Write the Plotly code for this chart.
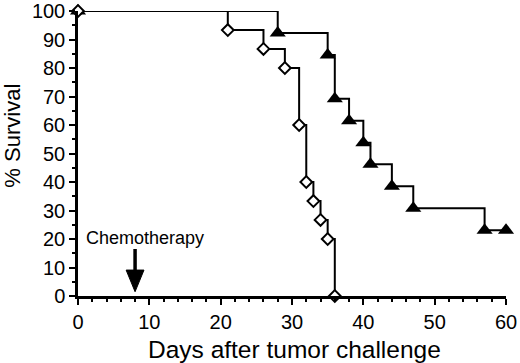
import plotly.graph_objects as go

# Survival data (days, % survival)
control_days = [0, 21, 26, 29, 31, 32, 33, 34, 35, 36]
control_surv = [100, 93.3, 86.7, 80.0, 60.0, 40.0, 33.3, 26.7, 20.0, 0]

treated_days = [0, 28, 35, 36, 38, 40, 41, 44, 47, 57, 60]
treated_surv = [100, 92.3, 84.6, 69.2, 61.5, 53.8, 46.2, 38.5, 30.8, 23.1, 23.1]

chemo_day = 8
chemo_label = "Chemotherapy"

x_title = "Days after tumor challenge"
y_title = "% Survival"

FONT = "Liberation Sans, Arial, Helvetica, sans-serif"

fig = go.Figure()

fig.add_trace(go.Scatter(
    x=treated_days, y=treated_surv, mode="lines+markers",
    line=dict(shape="hv", color="black", width=2),
    marker=dict(symbol="triangle-up", size=14, color="black",
                line=dict(color="black", width=0)),
    cliponaxis=False, showlegend=False,
))

fig.add_trace(go.Scatter(
    x=control_days, y=control_surv, mode="lines+markers",
    line=dict(shape="hv", color="black", width=2),
    marker=dict(symbol="diamond", size=9, color="white",
                line=dict(color="black", width=2)),
    cliponaxis=False, showlegend=False,
))

# Chemotherapy arrow
fig.add_shape(type="line", x0=chemo_day, x1=chemo_day, y0=16.5, y1=8.5,
              line=dict(color="black", width=3.5), xref="x", yref="y")
fig.add_shape(type="path",
              path=f"M {chemo_day-1.25} 9.1 L {chemo_day+1.25} 9.1 L {chemo_day} 1.5 Z",
              fillcolor="black", line=dict(color="black", width=1),
              xref="x", yref="y")

fig.add_annotation(x=9.4, y=20.4, xref="x", yref="y", text=chemo_label,
                   showarrow=False, xanchor="center", yanchor="middle",
                   font=dict(family=FONT, size=18, color="black"))

fig.add_annotation(x=0.507, y=-0.186, xref="paper", yref="paper", text=x_title,
                   showarrow=False, xanchor="center", yanchor="middle",
                   font=dict(family=FONT, size=24.5, color="black"))

fig.add_annotation(x=-0.154, y=0.563, xref="paper", yref="paper", text=y_title,
                   showarrow=False, xanchor="center", yanchor="middle",
                   textangle=-90,
                   font=dict(family=FONT, size=22, color="black"))

axis_common = dict(
    showgrid=False, zeroline=False, showline=True, linecolor="black",
    linewidth=2.5, ticks="outside", tickcolor="black", tickwidth=2,
    ticklen=6, tickfont=dict(family=FONT, size=20, color="black"),
)

fig.update_xaxes(range=[0, 60], dtick=10, tick0=0,
                 minor=dict(dtick=2, ticks="outside", ticklen=3,
                            tickwidth=2, tickcolor="black"),
                 **axis_common)
fig.update_yaxes(range=[0, 100], dtick=10, tick0=0,
                 minor=dict(dtick=5, ticks="outside", ticklen=3,
                            tickwidth=2, tickcolor="black"),
                 **axis_common)

fig.update_layout(
    width=520, height=363,
    margin=dict(l=78, r=14, t=11, b=67, autoexpand=False),
    plot_bgcolor="white", paper_bgcolor="white",
    font=dict(family=FONT, color="black"),
)

fig.write_html(
    "out.html",
    config={"displayModeBar": False},
    post_script="document.body.style.margin='0';document.body.style.overflow='hidden';",
)
